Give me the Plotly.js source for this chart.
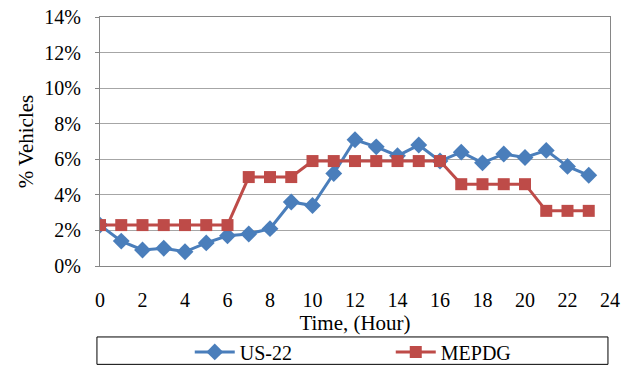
<!DOCTYPE html>
<html><head><meta charset="utf-8">
<script src="https://cdn.plot.ly/plotly-3.0.1.min.js"></script>
<style>html,body{margin:0;padding:0;background:#fff;}#c{width:624px;height:366px;}</style>
</head><body><div id="c"></div>
<script>
const hours = [0,1,2,3,4,5,6,7,8,9,10,11,12,13,14,15,16,17,18,19,20,21,22,23];
const us22 = [0.023,0.014,0.009,0.010,0.008,0.013,0.017,0.018,0.021,0.036,0.034,0.052,0.071,0.067,0.062,0.068,0.059,0.064,0.058,0.063,0.061,0.065,0.056,0.051];
const mepdg = [0.023,0.023,0.023,0.023,0.023,0.023,0.023,0.050,0.050,0.050,0.059,0.059,0.059,0.059,0.059,0.059,0.059,0.046,0.046,0.046,0.046,0.031,0.031,0.031];
const xTicks = [0,2,4,6,8,10,12,14,16,18,20,22,24];
const yTicks = [0,0.02,0.04,0.06,0.08,0.10,0.12,0.14];

const fam = 'Liberation Serif, Times New Roman, serif';
const tickFont = {family:fam, size:20, color:'#000'};
const titleFont = {family:fam, size:21, color:'#000'};
const traces = [
  {x:hours, y:us22, name:'US-22', mode:'lines+markers', type:'scatter',
   line:{color:'#4a7ebb', width:3}, marker:{symbol:'diamond', size:13, color:'#4a7ebb'}},
  {x:hours, y:mepdg, name:'MEPDG', mode:'lines+markers', type:'scatter',
   line:{color:'#be4b48', width:3}, marker:{symbol:'square', size:12, color:'#be4b48'}}
];
const layout = {
  width:624, height:366, margin:{l:100, r:14, t:17, b:100, autoexpand:false},
  paper_bgcolor:'#fff', plot_bgcolor:'#fff', font:tickFont, showlegend:true,
  xaxis:{range:[0,24], tickvals:xTicks, ticktext:xTicks.map(String), showgrid:false, zeroline:false,
    showline:true, linecolor:'#868686', linewidth:1, mirror:true, ticks:'', ticklabelstandoff:16,
    title:{text:'Time, (Hour)', font:titleFont, standoff:0}, tickfont:tickFont, automargin:false},
  yaxis:{range:[0,0.14], tickvals:yTicks, ticktext:yTicks.map(v=>Math.round(v*100)+'%'),
    showgrid:true, gridcolor:'#a6a6a6', gridwidth:1, zeroline:false,
    showline:true, linecolor:'#868686', linewidth:1, mirror:true, ticks:'outside', ticklen:4, tickcolor:'#868686',
    ticklabelstandoff:10,
    title:{text:'% Vehicles', font:titleFont, standoff:4}, tickfont:tickFont, automargin:false},
  legend:{orientation:'h', x:0.176, xanchor:'left', y:-0.345, yanchor:'middle', itemwidth:40,
    entrywidth:146, entrywidthmode:'pixels', font:tickFont, bgcolor:'rgba(0,0,0,0)', borderwidth:0},
  shapes:[{type:'rect', xref:'paper', yref:'paper', x0:-0.006, x1:0.996, y0:-0.395, y1:-0.285,
    line:{color:'#000', width:1}, fillcolor:'rgba(0,0,0,0)'}]
};
Plotly.newPlot('c', traces, layout, {displayModeBar:false, staticPlot:true});
</script></body></html>
